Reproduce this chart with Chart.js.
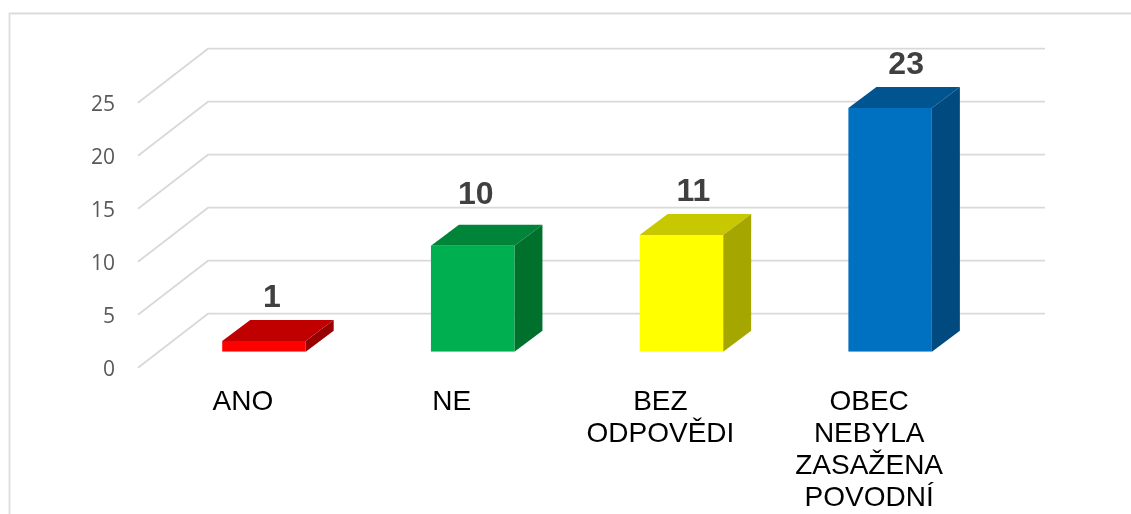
<!DOCTYPE html>
<html><head><meta charset="utf-8">
<style>html,body{margin:0;padding:0;background:#fff}canvas{display:block}</style>
<script src="https://cdn.jsdelivr.net/npm/chart.js@4"></script>
</head><body><canvas id="c" width="1131" height="514"></canvas>
<script>
const categories = [["ANO"], ["NE"], ["BEZ", "ODPOVĚDI"], ["OBEC", "NEBYLA", "ZASAŽENA", "POVODNÍ"]];
const values = [1, 10, 11, 23];
const frontColors = ["#ff0000", "#00b050", "#ffff00", "#0070c0"];
const topColors = ["#c00000", "#008439", "#c8c800", "#005490"];
const sideColors = ["#990000", "#00702d", "#a6a600", "#004a80"];
const labelShiftX = [8, 3, 12, 16];
const labelShiftY = [-43, -51, -43, -43];
const DEPTH_X = 28, DEPTH_Y = 21;
const WALL = {frontX: 138, backX: 208, endX: 1045, frontDY: 16, backDY: -38};

const scene = {
  id: 'scene',
  beforeDatasetsDraw(chart) {
    const ctx = chart.ctx, y = chart.scales.y;
    ctx.save();
    ctx.strokeStyle = '#dcdcdc'; ctx.lineWidth = 1.8;
    ctx.beginPath(); ctx.moveTo(9.5, 514); ctx.lineTo(9.5, 13.5); ctx.lineTo(1131, 13.5); ctx.stroke();
    ctx.strokeStyle = '#d9d9d9'; ctx.lineWidth = 1.8;
    y.ticks.forEach(t => {
      const py = y.getPixelForValue(t.value);
      ctx.beginPath();
      ctx.moveTo(WALL.frontX, py + WALL.frontDY);
      ctx.lineTo(WALL.backX, py + WALL.backDY);
      ctx.lineTo(WALL.endX, py + WALL.backDY);
      ctx.stroke();
    });
    chart.getDatasetMeta(0).data.forEach((b, i) => {
      const l = b.x - b.width / 2, r = b.x + b.width / 2;
      ctx.fillStyle = topColors[i];
      ctx.beginPath(); ctx.moveTo(l, b.y); ctx.lineTo(l + DEPTH_X, b.y - DEPTH_Y);
      ctx.lineTo(r + DEPTH_X, b.y - DEPTH_Y); ctx.lineTo(r, b.y); ctx.closePath(); ctx.fill();
      ctx.fillStyle = sideColors[i];
      ctx.beginPath(); ctx.moveTo(r, b.y); ctx.lineTo(r + DEPTH_X, b.y - DEPTH_Y);
      ctx.lineTo(r + DEPTH_X, b.base - DEPTH_Y); ctx.lineTo(r, b.base); ctx.closePath(); ctx.fill();
    });
    ctx.restore();
  },
  afterDatasetsDraw(chart) {
    const ctx = chart.ctx;
    ctx.save();
    ctx.fillStyle = '#404040';
    ctx.font = 'bold 32px "Liberation Sans"';
    ctx.textAlign = 'center'; ctx.textBaseline = 'middle';
    chart.getDatasetMeta(0).data.forEach((b, i) => {
      ctx.fillText(String(values[i]), b.x + labelShiftX[i], b.y + labelShiftY[i]);
    });
    ctx.restore();
  }
};

new Chart(document.getElementById('c'), {
  type: 'bar',
  data: {
    labels: categories,
    datasets: [{
      data: values,
      backgroundColor: frontColors,
      categoryPercentage: 1,
      barPercentage: 0.4,
      borderWidth: 0
    }]
  },
  options: {
    responsive: false,
    animation: false,
    layout: {padding: {top: 86.7, right: 136.5, left: 0, bottom: 0}},
    plugins: {legend: {display: false}, title: {display: false}, tooltip: {enabled: false}},
    scales: {
      x: {
        grid: {display: false, drawTicks: false},
        border: {display: false},
        afterFit(s) { s.height = 162.3; },
        ticks: {
          autoSkip: false, maxRotation: 0, minRotation: 0,
          padding: 35, labelOffset: -21,
          color: '#000000',
          font: {family: '"Liberation Sans"', size: 28, lineHeight: '32px'}
        }
      },
      y: {
        min: 0, max: 25,
        grid: {display: false, drawTicks: false},
        border: {display: false},
        afterFit(s) { s.width = 159.6; },
        ticks: {
          stepSize: 5, padding: 44.5, labelOffset: 18.5,
          color: '#595959',
          font: {family: '"Open Sans"', size: 21}
        }
      }
    }
  },
  plugins: [scene]
});
</script></body></html>
